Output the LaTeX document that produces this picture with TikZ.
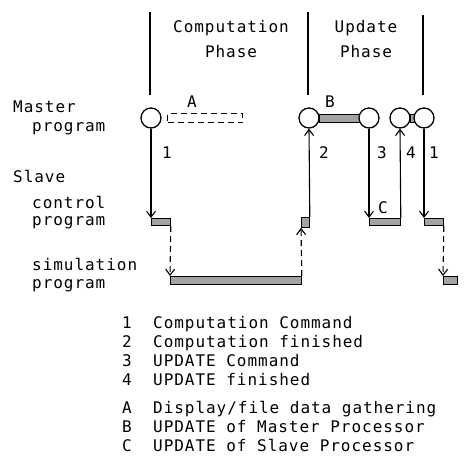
\documentclass[tikz,border=0pt]{standalone}
\usepackage{fontspec}
\newfontfamily\monof[LetterSpace=6]{DejaVu Sans Mono}
\usetikzlibrary{arrows.meta}
\begin{document}
\begin{tikzpicture}[x=1pt,y=-1pt,
  lbl/.style={font=\monof\fontsize{16}{19}\selectfont, inner sep=0pt, text height=11.7pt, text depth=0pt},
  ln/.style={line width=1.1pt},
  circ/.style={circle, draw, line width=1.3pt, minimum size=20pt, inner sep=0pt, fill=white},
  bar/.style={draw, line width=0.8pt, fill=gray!72, inner sep=0pt},
  arr/.style={line width=1.1pt, -{Straight Barb[length=6pt,width=9pt,line width=1.1pt]}},
  dasharr/.style={arr, dash pattern=on 6pt off 4pt},
]
\useasboundingbox (0,0) rectangle (471,458);

% phase dividers
\coordinate (d1t) at (150,12); \coordinate (d1b) at (150,95);
\coordinate (d2t) at (308,12); \coordinate (d2b) at (308,95);
\coordinate (d3t) at (423,15); \coordinate (d3b) at (423,95);
\draw[ln] (d1t) -- (d1b);
\draw[ln] (d2t) -- (d2b);
\draw[ln] (d3t) -- (d3b);

\node[lbl] (h1) at (231,27) {Computation};
\node[lbl] (h2) at (231,52) {Phase};
\node[lbl] (h3) at (366,27) {Update};
\node[lbl] (h4) at (366,52) {Phase};

% left labels
\node[lbl, anchor=west] (lm1) at (13,107) {Master};
\node[lbl, anchor=west] (lm2) at (32,126) {program};
\node[lbl, anchor=west] (ls1) at (13,177) {Slave};
\node[lbl, anchor=west] (ls2) at (32,203) {control};
\node[lbl, anchor=west] (ls3) at (32,220) {program};
\node[lbl, anchor=west] (ls4) at (32,265) {simulation};
\node[lbl, anchor=west] (ls5) at (32,283) {program};

% bars (activity)
\node[draw, dash pattern=on 6pt off 4pt, line width=1pt, minimum width=75pt, minimum height=9pt, inner sep=0pt, anchor=west] (aa) at (167,118) {};
\node[bar, minimum width=40pt, minimum height=8pt] (bb) at (339,118) {};
\node[bar, minimum width=4pt, minimum height=8pt] (bs) at (412,118) {};

% master circles
\node[circ] (m1) at (151,118) {};
\node[circ] (m2) at (309,118) {};
\node[circ] (m3) at (369,118) {};
\node[circ] (m4) at (400,118) {};
\node[circ] (m5) at (424,118) {};

\node[lbl] (la) at (192,102) {A};
\node[lbl] (lb) at (330,102) {B};
\node[lbl] (lc) at (383,208) {C};

% slave control bars
\node[bar, anchor=north west, minimum width=19pt, minimum height=7pt] (c1) at (151,218) {};
\node[bar, anchor=north west, minimum width=8pt, minimum height=10pt] (c2) at (301,217) {};
\node[bar, anchor=north west, minimum width=31pt, minimum height=7pt] (c3) at (369,218) {};
\node[bar, anchor=north west, minimum width=19pt, minimum height=7pt] (c4) at (424,218) {};
% simulation bars
\node[bar, anchor=north west, minimum width=131pt, minimum height=8pt] (s1) at (170,276) {};
\node[bar, anchor=north west, minimum width=14pt, minimum height=8pt] (s2) at (443,276) {};

% connectors
\draw[arr] (m1.south) -- (c1.north west);
\draw[dasharr] (c1.south east) -- (s1.north west);
\draw[dasharr] (s1.north east) -- (c2.south west);
\draw[arr] (c2.north east) -- (m2.south);
\draw[arr] (m3.south) -- (c3.north west);
\draw[arr] (c3.north east) -- (m4.south);
\draw[arr] (m5.south) -- (c4.north west);
\draw[dasharr] (c4.south east) -- (s2.north west);

% connector numbers
\node[lbl] (n1) at (167,153) {1};
\node[lbl] (n2) at (324,153) {2};
\node[lbl] (n3) at (382,153) {3};
\node[lbl] (n4) at (411,153) {4};
\node[lbl] (n5) at (434,153) {1};

% legend
\node[lbl, anchor=west] (k1) at (122,323) {1};
\node[lbl, anchor=west] (t1) at (153,323) {Computation Command};
\node[lbl, anchor=west] (k2) at (122,342) {2};
\node[lbl, anchor=west] (t2) at (153,342) {Computation finished};
\node[lbl, anchor=west] (k3) at (122,361) {3};
\node[lbl, anchor=west] (t3) at (153,361) {UPDATE Command};
\node[lbl, anchor=west] (k4) at (122,380) {4};
\node[lbl, anchor=west] (t4) at (153,380) {UPDATE finished};
\node[lbl, anchor=west] (ka) at (122,408) {A};
\node[lbl, anchor=west] (ta) at (153,408) {Display/file data gathering};
\node[lbl, anchor=west] (kb) at (122,427) {B};
\node[lbl, anchor=west] (tb) at (153,427) {UPDATE of Master Processor};
\node[lbl, anchor=west] (kc) at (122,446) {C};
\node[lbl, anchor=west] (tc) at (153,446) {UPDATE of Slave Processor};
\end{tikzpicture}
\end{document}
